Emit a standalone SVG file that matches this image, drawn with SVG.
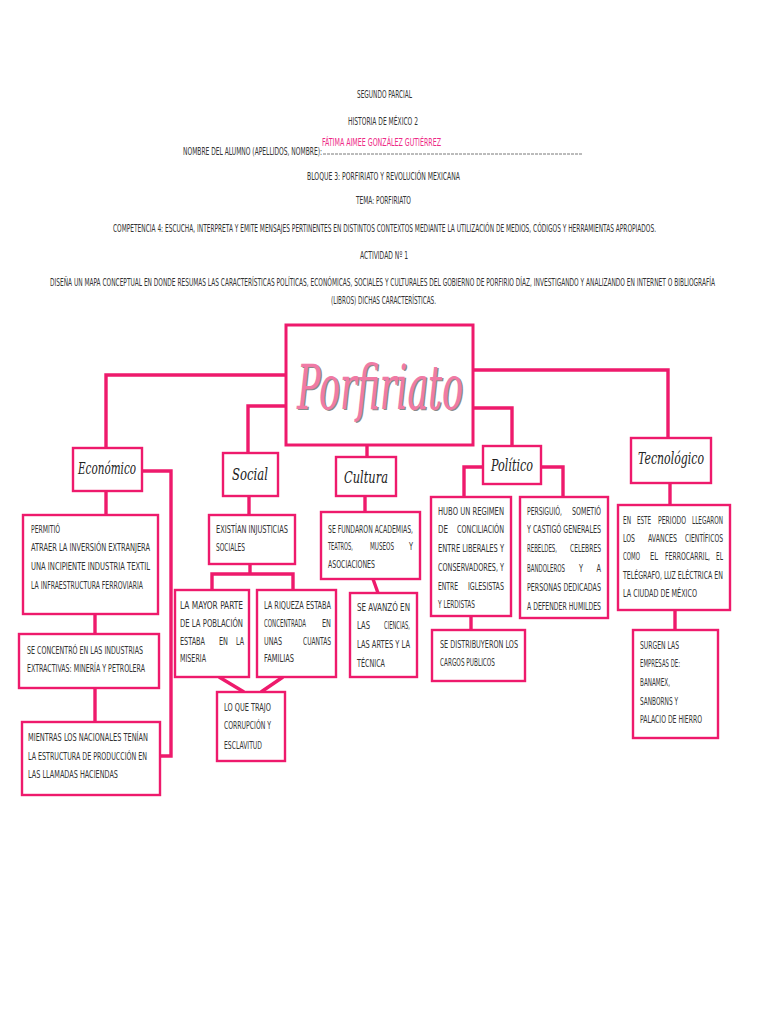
<svg xmlns="http://www.w3.org/2000/svg" width="768" height="1024" viewBox="0 0 768 1024">
<style>
.bg{fill:#fff}
.box{fill:#fff;stroke:#ee1a6c;stroke-width:2.4}
.conn{fill:none;stroke:#ee1a6c;stroke-width:3.4;stroke-linejoin:miter}
.t{font-family:"DejaVu Sans",sans-serif;font-stretch:condensed;font-size:7.3px;fill:#333}
.h{font-family:"DejaVu Sans",sans-serif;font-stretch:condensed;font-size:6.8px;fill:#333}
.lbl{font-family:"DejaVu Serif","Liberation Serif",serif;font-style:italic;font-size:11px;fill:#222;text-anchor:middle}
.big{font-family:"DejaVu Serif","Liberation Serif",serif;font-style:italic;font-size:34px;text-anchor:middle}
.e{text-anchor:end}
</style>
<rect class="bg" x="0" y="0" width="768" height="1024"/>
<g id="header">
<text class="h" transform="translate(357,98) scale(1,1.5)" textLength="55" lengthAdjust="spacingAndGlyphs">SEGUNDO PARCIAL</text>
<text class="h" transform="translate(348,125) scale(1,1.5)" textLength="70" lengthAdjust="spacingAndGlyphs">HISTORIA DE MÉXICO 2</text>
<text class="h" transform="translate(183,155) scale(1,1.5)" textLength="139" lengthAdjust="spacingAndGlyphs">NOMBRE DEL ALUMNO (APELLIDOS, NOMBRE):</text>
<text class="h" transform="translate(322,146) scale(1,1.5)" textLength="119" lengthAdjust="spacingAndGlyphs" style="fill:#ee2a86">FÁTIMA AIMEE GONZÁLEZ GUTIÉRREZ</text>
<line x1="323" y1="154" x2="583" y2="154" stroke="#555" stroke-width="0.8" stroke-dasharray="3 1"/>
<text class="h" transform="translate(307,180) scale(1,1.5)" textLength="153" lengthAdjust="spacingAndGlyphs">BLOQUE 3: PORFIRIATO Y REVOLUCIÓN MEXICANA</text>
<text class="h" transform="translate(356,204) scale(1,1.5)" textLength="55" lengthAdjust="spacingAndGlyphs">TEMA: PORFIRIATO</text>
<text class="h" transform="translate(113,232) scale(1,1.5)" textLength="543" lengthAdjust="spacingAndGlyphs">COMPETENCIA 4: ESCUCHA, INTERPRETA Y EMITE MENSAJES PERTINENTES EN DISTINTOS CONTEXTOS MEDIANTE LA UTILIZACIÓN DE MEDIOS, CÓDIGOS Y HERRAMIENTAS APROPIADOS.</text>
<text class="h" transform="translate(360,259) scale(1,1.5)" textLength="48" lengthAdjust="spacingAndGlyphs">ACTIVIDAD Nº 1</text>
<text class="h" transform="translate(50,286) scale(1,1.5)" textLength="665" lengthAdjust="spacingAndGlyphs">DISEÑA UN MAPA CONCEPTUAL EN DONDE RESUMAS LAS CARACTERÍSTICAS POLÍTICAS, ECONÓMICAS, SOCIALES Y CULTURALES DEL GOBIERNO DE PORFIRIO DÍAZ, INVESTIGANDO Y ANALIZANDO EN INTERNET O BIBLIOGRAFÍA</text>
<text class="h" transform="translate(331,304) scale(1,1.5)" textLength="105" lengthAdjust="spacingAndGlyphs">(LIBROS) DICHAS CARACTERÍSTICAS.</text>
</g>
<g id="connectors">
<path class="conn" d="M286,375 H106 V448"/>
<path class="conn" d="M106,491 V515"/>
<path class="conn" d="M142,471 H171 V756 H160"/>
<path class="conn" d="M95,614 V634"/>
<path class="conn" d="M95,688 V722"/>
<path class="conn" d="M286,406 H248 V453"/>
<path class="conn" d="M249,496 V515"/>
<path class="conn" d="M250,564 V574"/>
<path class="conn" d="M212,590 V574 H293 V590"/>
<path class="conn" d="M219,677 L244,692"/>
<path class="conn" d="M283,677 L261,692"/>
<path class="conn" d="M367,445 V457"/>
<path class="conn" d="M365,496 V512"/>
<path class="conn" d="M373,579 L378,593"/>
<path class="conn" d="M473,408 H512 V446"/>
<path class="conn" d="M482,467 H464 V497"/>
<path class="conn" d="M541,467 H563 V497"/>
<path class="conn" d="M471,616 V630"/>
<path class="conn" d="M473,370 H668 V438"/>
<path class="conn" d="M670,483 V505"/>
<path class="conn" d="M675,610 V630"/>
</g>
<g id="porfiriato">
<rect class="box" x="286" y="325" width="187" height="120" style="stroke-width:3"/>
<text class="big" transform="translate(381.5,410) scale(1,1.8)" fill="#8a8a8a" textLength="166" lengthAdjust="spacingAndGlyphs">Porfiriato</text>
<text class="big" transform="translate(380,408.5) scale(1,1.8)" fill="#f07aa5" textLength="166" lengthAdjust="spacingAndGlyphs">Porfiriato</text>
</g>
<g id="economico">
<rect class="box" x="73" y="448" width="69" height="43"/>
<text class="lbl" transform="translate(107,474) scale(1,1.5)" textLength="58" lengthAdjust="spacingAndGlyphs">Económico</text>
</g>
<g id="eco1">
<rect class="box" x="23" y="515" width="135" height="99"/>
<text class="t" transform="translate(31,533) scale(1,1.55)" textLength="29" lengthAdjust="spacingAndGlyphs">PERMITIÓ</text>
<text class="t" transform="translate(31,551) scale(1,1.55)" textLength="119" lengthAdjust="spacingAndGlyphs">ATRAER LA INVERSIÓN EXTRANJERA</text>
<text class="t" transform="translate(31,570) scale(1,1.55)" textLength="119" lengthAdjust="spacingAndGlyphs">UNA INCIPIENTE INDUSTRIA TEXTIL</text>
<text class="t" transform="translate(31,589) scale(1,1.55)" textLength="112" lengthAdjust="spacingAndGlyphs">LA INFRAESTRUCTURA FERROVIARIA</text>
</g>
<g id="eco2">
<rect class="box" x="19" y="634" width="140" height="54"/>
<text class="t" transform="translate(27,654) scale(1,1.55)" textLength="116" lengthAdjust="spacingAndGlyphs">SE CONCENTRÓ EN LAS INDUSTRIAS</text>
<text class="t" transform="translate(27,672) scale(1,1.55)" textLength="118" lengthAdjust="spacingAndGlyphs">EXTRACTIVAS: MINERÍA Y PETROLERA</text>
</g>
<g id="eco3">
<rect class="box" x="22" y="722" width="138" height="73"/>
<text class="t" transform="translate(28,741) scale(1,1.55)" textLength="120" lengthAdjust="spacingAndGlyphs">MIENTRAS LOS NACIONALES TENÍAN</text>
<text class="t" transform="translate(28,760) scale(1,1.55)" textLength="119" lengthAdjust="spacingAndGlyphs">LA ESTRUCTURA DE PRODUCCIÓN EN</text>
<text class="t" transform="translate(28,778) scale(1,1.55)" textLength="90" lengthAdjust="spacingAndGlyphs">LAS LLAMADAS HACIENDAS</text>
</g>
<g id="social">
<rect class="box" x="223" y="453" width="55" height="43"/>
<text class="lbl" transform="translate(250,480) scale(1,1.5)" textLength="36" lengthAdjust="spacingAndGlyphs">Social</text>
</g>
<g id="soc1">
<rect class="box" x="209" y="515" width="86" height="49"/>
<text class="t" transform="translate(216,533) scale(1,1.55)" textLength="72" lengthAdjust="spacingAndGlyphs">EXISTÍAN INJUSTICIAS</text>
<text class="t" transform="translate(216,551) scale(1,1.55)" textLength="29" lengthAdjust="spacingAndGlyphs">SOCIALES</text>
</g>
<g id="soc2">
<rect class="box" x="175" y="590" width="74" height="87"/>
<text class="t" transform="translate(180,609) scale(1,1.55)" textLength="63" lengthAdjust="spacingAndGlyphs">LA MAYOR PARTE</text>
<text class="t" transform="translate(180,627) scale(1,1.55)" textLength="63" lengthAdjust="spacingAndGlyphs">DE LA POBLACIÓN</text>
<text class="t" transform="translate(180,645) scale(1,1.55)" textLength="25" lengthAdjust="spacingAndGlyphs">ESTABA</text>
<text class="t" transform="translate(219,645) scale(1,1.55)" textLength="9" lengthAdjust="spacingAndGlyphs">EN</text>
<text class="t e" transform="translate(244,645) scale(1,1.55)" textLength="8" lengthAdjust="spacingAndGlyphs">LA</text>
<text class="t" transform="translate(180,662) scale(1,1.55)" textLength="26" lengthAdjust="spacingAndGlyphs">MISERIA</text>
</g>
<g id="soc3">
<rect class="box" x="257" y="590" width="79" height="87"/>
<text class="t" transform="translate(264,609) scale(1,1.55)" textLength="67" lengthAdjust="spacingAndGlyphs">LA RIQUEZA ESTABA</text>
<text class="t" transform="translate(264,627) scale(1,1.55)" textLength="42" lengthAdjust="spacingAndGlyphs">CONCENTRADA</text>
<text class="t e" transform="translate(331,627) scale(1,1.55)" textLength="9" lengthAdjust="spacingAndGlyphs">EN</text>
<text class="t" transform="translate(264,645) scale(1,1.55)" textLength="18" lengthAdjust="spacingAndGlyphs">UNAS</text>
<text class="t e" transform="translate(331,645) scale(1,1.55)" textLength="28" lengthAdjust="spacingAndGlyphs">CUANTAS</text>
<text class="t" transform="translate(264,662) scale(1,1.55)" textLength="30" lengthAdjust="spacingAndGlyphs">FAMILIAS</text>
</g>
<g id="soc4">
<rect class="box" x="217" y="692" width="68" height="69"/>
<text class="t" transform="translate(224,711) scale(1,1.55)" textLength="47" lengthAdjust="spacingAndGlyphs">LO QUE TRAJO</text>
<text class="t" transform="translate(224,729) scale(1,1.55)" textLength="47" lengthAdjust="spacingAndGlyphs">CORRUPCIÓN Y</text>
<text class="t" transform="translate(224,749) scale(1,1.55)" textLength="38" lengthAdjust="spacingAndGlyphs">ESCLAVITUD</text>
</g>
<g id="cultura">
<rect class="box" x="336" y="457" width="60" height="39"/>
<text class="lbl" transform="translate(366,483) scale(1,1.5)" textLength="44" lengthAdjust="spacingAndGlyphs">Cultura</text>
</g>
<g id="cul1">
<rect class="box" x="321" y="512" width="99" height="67"/>
<text class="t" transform="translate(328,533) scale(1,1.55)" textLength="85" lengthAdjust="spacingAndGlyphs">SE FUNDARON ACADEMIAS,</text>
<text class="t" transform="translate(328,550) scale(1,1.55)" textLength="25" lengthAdjust="spacingAndGlyphs">TEATROS,</text>
<text class="t" transform="translate(370,550) scale(1,1.55)" textLength="24" lengthAdjust="spacingAndGlyphs">MUSEOS</text>
<text class="t e" transform="translate(413,550) scale(1,1.55)" textLength="4" lengthAdjust="spacingAndGlyphs">Y</text>
<text class="t" transform="translate(328,568) scale(1,1.55)" textLength="47" lengthAdjust="spacingAndGlyphs">ASOCIACIONES</text>
</g>
<g id="cul2">
<rect class="box" x="350" y="593" width="67" height="84"/>
<text class="t" transform="translate(357,611) scale(1,1.55)" textLength="53" lengthAdjust="spacingAndGlyphs">SE AVANZÓ EN</text>
<text class="t" transform="translate(357,629) scale(1,1.55)" textLength="13" lengthAdjust="spacingAndGlyphs">LAS</text>
<text class="t e" transform="translate(410,629) scale(1,1.55)" textLength="26" lengthAdjust="spacingAndGlyphs">CIENCIAS,</text>
<text class="t" transform="translate(357,648) scale(1,1.55)" textLength="53" lengthAdjust="spacingAndGlyphs">LAS ARTES Y LA</text>
<text class="t" transform="translate(357,667) scale(1,1.55)" textLength="28" lengthAdjust="spacingAndGlyphs">TÉCNICA</text>
</g>
<g id="politico">
<rect class="box" x="483" y="446" width="58" height="38"/>
<text class="lbl" transform="translate(512,471) scale(1,1.5)" textLength="42" lengthAdjust="spacingAndGlyphs">Político</text>
</g>
<g id="pol1">
<rect class="box" x="431" y="497" width="80" height="119"/>
<text class="t" transform="translate(438,515) scale(1,1.55)" textLength="66" lengthAdjust="spacingAndGlyphs">HUBO UN REGIMEN</text>
<text class="t" transform="translate(438,533) scale(1,1.55)" textLength="10" lengthAdjust="spacingAndGlyphs">DE</text>
<text class="t e" transform="translate(504,533) scale(1,1.55)" textLength="47" lengthAdjust="spacingAndGlyphs">CONCILIACIÓN</text>
<text class="t" transform="translate(438,552) scale(1,1.55)" textLength="66" lengthAdjust="spacingAndGlyphs">ENTRE LIBERALES Y</text>
<text class="t" transform="translate(438,571) scale(1,1.55)" textLength="66" lengthAdjust="spacingAndGlyphs">CONSERVADORES, Y</text>
<text class="t" transform="translate(438,590) scale(1,1.55)" textLength="20" lengthAdjust="spacingAndGlyphs">ENTRE</text>
<text class="t e" transform="translate(504,590) scale(1,1.55)" textLength="36" lengthAdjust="spacingAndGlyphs">IGLESISTAS</text>
<text class="t" transform="translate(438,608) scale(1,1.55)" textLength="37" lengthAdjust="spacingAndGlyphs">Y LERDISTAS</text>
</g>
<g id="pol2">
<rect class="box" x="520" y="497" width="88" height="121"/>
<text class="t" transform="translate(527,515) scale(1,1.55)" textLength="35" lengthAdjust="spacingAndGlyphs">PERSIGUIÓ,</text>
<text class="t e" transform="translate(601,515) scale(1,1.55)" textLength="29" lengthAdjust="spacingAndGlyphs">SOMETIÓ</text>
<text class="t" transform="translate(527,533) scale(1,1.55)" textLength="74" lengthAdjust="spacingAndGlyphs">Y CASTIGÓ GENERALES</text>
<text class="t" transform="translate(527,552) scale(1,1.55)" textLength="30" lengthAdjust="spacingAndGlyphs">REBELDES,</text>
<text class="t e" transform="translate(601,552) scale(1,1.55)" textLength="31" lengthAdjust="spacingAndGlyphs">CELEBRES</text>
<text class="t" transform="translate(527,572) scale(1,1.55)" textLength="38" lengthAdjust="spacingAndGlyphs">BANDOLEROS</text>
<text class="t" transform="translate(579,572) scale(1,1.55)" textLength="4" lengthAdjust="spacingAndGlyphs">Y</text>
<text class="t e" transform="translate(601,572) scale(1,1.55)" textLength="4.5" lengthAdjust="spacingAndGlyphs">A</text>
<text class="t" transform="translate(527,591) scale(1,1.55)" textLength="74" lengthAdjust="spacingAndGlyphs">PERSONAS DEDICADAS</text>
<text class="t" transform="translate(527,610) scale(1,1.55)" textLength="74" lengthAdjust="spacingAndGlyphs">A DEFENDER HUMILDES</text>
</g>
<g id="pol3">
<rect class="box" x="432" y="630" width="93" height="51"/>
<text class="t" transform="translate(440,648) scale(1,1.55)" textLength="78" lengthAdjust="spacingAndGlyphs">SE DISTRIBUYERON LOS</text>
<text class="t" transform="translate(440,666) scale(1,1.55)" textLength="55" lengthAdjust="spacingAndGlyphs">CARGOS PUBLICOS</text>
</g>
<g id="tecnologico">
<rect class="box" x="631" y="438" width="80" height="45"/>
<text class="lbl" transform="translate(671,464) scale(1,1.5)" textLength="66" lengthAdjust="spacingAndGlyphs">Tecnológico</text>
</g>
<g id="tec1">
<rect class="box" x="618" y="505" width="112" height="105"/>
<text class="t" transform="translate(623,524) scale(1,1.55)" textLength="8" lengthAdjust="spacingAndGlyphs">EN</text>
<text class="t" transform="translate(637,524) scale(1,1.55)" textLength="14" lengthAdjust="spacingAndGlyphs">ESTE</text>
<text class="t" transform="translate(658,524) scale(1,1.55)" textLength="28" lengthAdjust="spacingAndGlyphs">PERIODO</text>
<text class="t e" transform="translate(723,524) scale(1,1.55)" textLength="31" lengthAdjust="spacingAndGlyphs">LLEGARON</text>
<text class="t" transform="translate(623,542) scale(1,1.55)" textLength="12" lengthAdjust="spacingAndGlyphs">LOS</text>
<text class="t" transform="translate(648,542) scale(1,1.55)" textLength="29" lengthAdjust="spacingAndGlyphs">AVANCES</text>
<text class="t e" transform="translate(723,542) scale(1,1.55)" textLength="38" lengthAdjust="spacingAndGlyphs">CIENTÍFICOS</text>
<text class="t" transform="translate(623,560) scale(1,1.55)" textLength="17" lengthAdjust="spacingAndGlyphs">COMO</text>
<text class="t" transform="translate(650,560) scale(1,1.55)" textLength="8" lengthAdjust="spacingAndGlyphs">EL</text>
<text class="t" transform="translate(665,560) scale(1,1.55)" textLength="45" lengthAdjust="spacingAndGlyphs">FERROCARRIL,</text>
<text class="t e" transform="translate(723,560) scale(1,1.55)" textLength="7" lengthAdjust="spacingAndGlyphs">EL</text>
<text class="t" transform="translate(623,579) scale(1,1.55)" textLength="100" lengthAdjust="spacingAndGlyphs">TELÉGRAFO, LUZ ELÉCTRICA EN</text>
<text class="t" transform="translate(623,597) scale(1,1.55)" textLength="74" lengthAdjust="spacingAndGlyphs">LA CIUDAD DE MÉXICO</text>
</g>
<g id="tec2">
<rect class="box" x="633" y="630" width="85" height="108"/>
<text class="t" transform="translate(640,649) scale(1,1.55)" textLength="39" lengthAdjust="spacingAndGlyphs">SURGEN LAS</text>
<text class="t" transform="translate(640,667) scale(1,1.55)" textLength="40" lengthAdjust="spacingAndGlyphs">EMPRESAS DE:</text>
<text class="t" transform="translate(640,686) scale(1,1.55)" textLength="30" lengthAdjust="spacingAndGlyphs">BANAMEX,</text>
<text class="t" transform="translate(640,705) scale(1,1.55)" textLength="38" lengthAdjust="spacingAndGlyphs">SANBORNS Y</text>
<text class="t" transform="translate(640,723) scale(1,1.55)" textLength="62" lengthAdjust="spacingAndGlyphs">PALACIO DE HIERRO</text>
</g>
</svg>
